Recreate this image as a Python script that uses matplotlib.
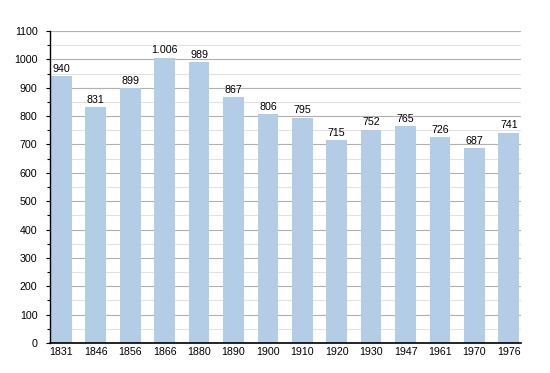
import matplotlib
matplotlib.use("Agg")
import matplotlib.pyplot as plt
from matplotlib.ticker import MultipleLocator

plt.rcParams['font.family'] = ['Liberation Sans', 'DejaVu Sans']

years = ["1831", "1846", "1856", "1866", "1880", "1890", "1900", "1910",
         "1920", "1930", "1947", "1961", "1970", "1976"]
population = [940, 831, 899, 1006, 989, 867, 806, 795, 715, 752, 765, 726, 687, 741]
labels = ["940", "831", "899", "1.006", "989", "867", "806", "795", "715",
          "752", "765", "726", "687", "741"]

fig = plt.figure(figsize=(5.5, 3.73), dpi=100)
ax = fig.add_axes([0.091, 0.0804, 0.856, 0.8365])

x = list(range(len(years)))
ax.bar(x, population, width=0.6, color="#b3cde6", zorder=2)
for xi, v, t in zip(x, population, labels):
    ax.annotate(t, (xi, v), xytext=(0, 3.2), textcoords="offset points",
                ha="center", va="baseline", fontsize=7.7, color="#000000", zorder=3)

ax.set_xlim(-0.33, 13.35)
ax.set_ylim(0, 1100)
ax.yaxis.set_major_locator(MultipleLocator(100))
ax.yaxis.set_minor_locator(MultipleLocator(50))
ax.grid(axis="y", which="major", color="#b0b0b0", linewidth=0.8, zorder=0)
ax.grid(axis="y", which="minor", color="#e2e2e2", linewidth=0.8, zorder=0)
ax.set_xticks(x)
ax.set_xticklabels(years)
ax.tick_params(axis="x", length=0, labelsize=7.7, pad=3)
ax.tick_params(axis="y", which="major", length=3, labelsize=7.7, width=0.8, pad=6)
ax.tick_params(axis="y", which="minor", length=2, width=0.8)
for s in ["top", "right"]:
    ax.spines[s].set_visible(False)
ax.spines["left"].set_linewidth(1)
ax.spines["bottom"].set_linewidth(1.2)

fig.savefig("out.png", dpi=100)
